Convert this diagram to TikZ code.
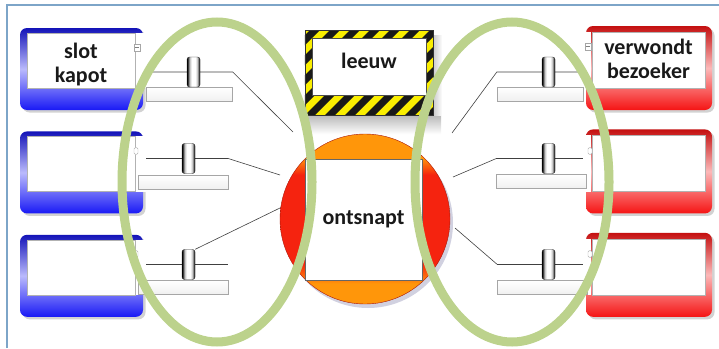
\documentclass[tikz,border=0pt]{standalone}
\usepackage{fontspec}
\setmainfont{Carlito}
\usetikzlibrary{positioning, shadows, backgrounds}

\definecolor{frameblue}{RGB}{125,165,200}
\definecolor{ringgreen}{RGB}{188,210,140}
\definecolor{cardblue}{RGB}{25,25,245}
\definecolor{cardred}{RGB}{245,20,20}
\definecolor{escorange}{RGB}{255,150,10}
\definecolor{escred}{RGB}{245,35,15}
\definecolor{hazardyellow}{RGB}{250,238,0}

% orange caps, red band in the middle
\pgfdeclareverticalshading{escapeshade}{100bp}{color(0bp)=(escorange); color(31bp)=(escorange);
  color(37bp)=(escred); color(63bp)=(escred); color(68bp)=(escorange); color(100bp)=(escorange)}
% dark rims, bright middle
\pgfdeclarehorizontalshading{knobshade}{100bp}{color(0bp)=(black); color(26bp)=(black);
  color(35bp)=(gray!50); color(43bp)=(white); color(57bp)=(white); color(65bp)=(gray!50);
  color(74bp)=(black); color(100bp)=(black)}

\tikzset{
    card/.style = {rounded corners=7pt, inner sep=0pt,
        drop shadow={shadow xshift=2.5pt, shadow yshift=-2.5pt, fill=gray!70, opacity=.5}},
    bluecard/.style = {card, minimum width=123pt, minimum height=82pt,
        top color=cardblue!75!black, bottom color=cardblue, middle color=cardblue!30!white},
    redcard/.style = {card, minimum width=126pt, minimum height=84pt,
        top color=cardred!80!black, bottom color=cardred, middle color=cardred!30!white},
    face/.style = {fill=white, draw=gray!60, inner sep=0pt},
    cardtext/.style = {align=center, inner sep=0pt, text=black!90,
        font=\bfseries\fontsize{22}{24}\selectfont},
    button/.style = {fill=white, draw=gray!70, minimum width=6pt, minimum height=7pt, inner sep=0pt,
        path picture={\draw[gray] ([xshift=1.2pt]path picture bounding box.west)
            -- ([xshift=-1.2pt]path picture bounding box.east);}},
    bump/.style = {fill=white, draw=gray!60, rounded corners=1.5pt,
        minimum width=4pt, minimum height=7pt, inner sep=0pt},
    rail/.style = {draw=gray!70, top color=white, bottom color=gray!12,
        minimum width=90pt, minimum height=14pt, inner sep=0pt},
    knob/.style = {rounded corners=2.5pt, draw=black!85, inner sep=0pt,
        minimum width=13pt, minimum height=30pt, shading=knobshade},
    wire/.style = {draw=black!75, line width=0.6pt},
    ring/.style = {draw=ringgreen, line width=9pt},
    escape/.style = {circle, minimum size=170pt, inner sep=0pt, shading=escapeshade,
        draw=escred!70!black,
        drop shadow={shadow xshift=3pt, shadow yshift=-4pt, fill=blue!20!gray!50, opacity=.6}}
}

\begin{document}
\begin{tikzpicture}[x=1pt, y=-1pt]
    \useasboundingbox (0,0) rectangle (719,348);
    \draw[frameblue, line width=1.5pt] (7,348) -- (7,5) -- (719,5);

    % cards on the left
    \node[bluecard] (l1card) at (81.5,69) {};
    \node[bluecard] (l2card) [below=21pt of l1card] {};
    \node[bluecard] (l3card) [below=21pt of l2card] {};
    \foreach \c in {l1,l2,l3} {
        \node[face, minimum width=108pt, minimum height=55pt] (\c face)
            at ([xshift=-0.5pt, yshift=8.5pt]\c card.center) {};
        \fill[white] ([xshift=0.4pt]\c face.north east) rectangle ([xshift=3pt]\c card.east |- \c face.south);
    }

    % cards on the right
    \node[redcard] (r1card) at (649,68) {};
    \node[redcard] (r2card) [below=19pt of r1card] {};
    \node[redcard] (r3card) [below=19pt of r2card] {};
    \foreach \c in {r1,r2,r3} {
        \node[face, minimum width=113pt, minimum height=56pt] (\c face)
            at ([xshift=-0.5pt, yshift=8pt]\c card.center) {};
        \fill[white] ([xshift=-3pt]\c card.west |- \c face.north) rectangle ([xshift=-0.4pt]\c face.south west);
    }

    \node[cardtext] (slot) at ([yshift=-4pt]l1face.center) {slot\\kapot};
    \node[cardtext] (verwondt) at ([yshift=1.5pt]r1face.center) {verwondt\\bezoeker};

    \node[button] (l1btn) at (137,47.5) {};
    \node[button] (r1btn) at (588,46.5) {};
    \node[bump] (l2bump) at (136,151) {};
    \node[bump] (l3bump) at (136,254) {};
    \node[bump] (r2bump) at (590,151) {};
    \node[bump] (r3bump) at (590,254) {};

    % sliders
    \node[rail, minimum width=86pt] (l1rail) at (189.5,94.5) {};
    \node[rail] (l2rail) at (183,182) {};
    \node[rail] (l3rail) at (183,287.5) {};
    \node[rail, minimum width=86pt] (r1rail) at (540,94) {};
    \node[rail] (r2rail) at (541.5,181.5) {};
    \node[rail] (r3rail) at (542.5,287.5) {};

    \node[knob] (l1knob) at (193.5,72) {};
    \node[knob] (l2knob) at (188.5,158.5) {};
    \node[knob] (l3knob) at (188.5,264.5) {};
    \node[knob] (r1knob) at (548.5,72) {};
    \node[knob] (r2knob) at (548.5,158.5) {};
    \node[knob] (r3knob) at (548.5,264.5) {};

    \coordinate (l1end) at (293,132);
    \coordinate (l2end) at (280,175);
    \coordinate (l3end) at (282,207);
    \coordinate (r1end) at (452,133);
    \coordinate (r2end) at (453,177);
    \coordinate (r3end) at (455,228);

    \begin{scope}[on background layer]
        \draw[wire] (l1rail.west |- l1knob) -- (l1rail.east |- l1knob) -- (l1end);
        \draw[wire] (l2rail.west |- l2knob) -- (l2rail.east |- l2knob) -- (l2end);
        \draw[wire] (l3rail.west |- l3knob) -- (l3rail.east |- l3knob);
        \draw[wire] (l3knob.north east) -- (l3end);
        \draw[wire] (r1rail.east |- r1knob) -- (r1rail.west |- r1knob) -- (r1end);
        \draw[wire] (r2rail.east |- r2knob) -- (r2rail.west |- r2knob) -- (r2end);
        \draw[wire] (r3rail.east |- r3knob) -- (r3rail.west |- r3knob) -- (r3end);
    \end{scope}

    % the lion with its hazard frame
    \node[fill=hazardyellow, minimum width=128pt, minimum height=85pt, inner sep=0pt] (hazard) at (369,72.5) {};
    \begin{scope}
        \clip (hazard.south west) rectangle (hazard.north east);
        \foreach \s in {-5,...,7}
            \fill[black!90] ([xshift=\s*20pt]hazard.south west) -- ++(10pt,0pt) -- ++(85pt,85pt) -- ++(-10pt,0pt) -- cycle;
    \end{scope}
    \draw[black!80] (hazard.south west) rectangle (hazard.north east);
    \begin{scope}[on background layer]
        \shade[top color=gray!55, bottom color=white] (hazard.south west) rectangle ([xshift=8pt, yshift=-19pt]hazard.south east);
        \shade[left color=gray!40, right color=white] ([yshift=-6pt]hazard.north east) rectangle ([xshift=9pt]hazard.south east);
    \end{scope}
    \node[face, draw=black!70, minimum width=114pt, minimum height=57pt] (leeuw) at (369,66.5) {};
    \node[cardtext] (leeuwtxt) at ([yshift=6pt]leeuw.center) {leeuw};

    % the escape
    \node[escape] (escape) at (365,219) {};
    \node[face, draw=black!60, minimum width=117pt, minimum height=121pt] (ontsnapt) at (363.5,219.5) {};
    \node[cardtext] (ontsnapttxt) at (ontsnapt.center) {ontsnapt};

    % the two groupings
    \draw[ring] (217,182) ellipse [x radius=95pt, y radius=160pt];
    \draw[ring] (512,182) ellipse [x radius=97pt, y radius=160pt];
\end{tikzpicture}
\end{document}
